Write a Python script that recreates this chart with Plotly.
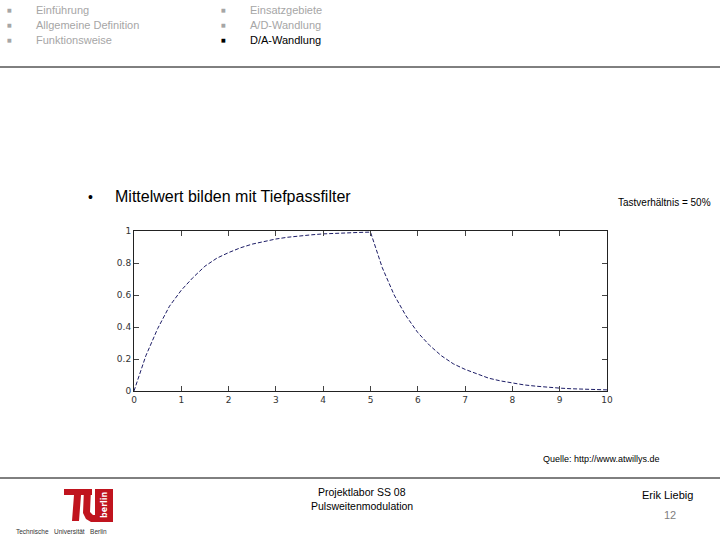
import plotly.graph_objects as go

# Data (low-pass filter response, duty cycle 50%)
t_vals = [0, 0.25, 0.5, 0.75, 1, 1.25, 1.5, 1.75, 2, 2.25, 2.5, 2.75, 3, 3.25, 3.5, 3.75, 4, 4.25, 4.5, 4.75, 5,
          5.25, 5.5, 5.75, 6, 6.25, 6.5, 6.75, 7, 7.25, 7.5, 7.75, 8, 8.25, 8.5, 8.75, 9, 9.25, 9.5, 9.75, 10]
u_vals = [0, 0.22, 0.39, 0.53, 0.63, 0.71, 0.78, 0.83, 0.865, 0.895, 0.918, 0.936, 0.95, 0.961, 0.97, 0.976, 0.982, 0.986, 0.989, 0.991, 0.993,
          0.77, 0.60, 0.47, 0.365, 0.285, 0.22, 0.17, 0.135, 0.105, 0.08, 0.063, 0.049, 0.038, 0.03, 0.023, 0.018, 0.014, 0.011, 0.008, 0.007]
x_ticks = [0, 1, 2, 3, 4, 5, 6, 7, 8, 9, 10]
y_ticks = [0, 0.2, 0.4, 0.6, 0.8, 1]
y_tick_labels = ["0", "0.2", "0.4", "0.6", "0.8", "1"]

W, H = 720, 540
L, R, T, B = 134, 607, 231, 391  # plot area in pixels


def px(x):
    return (x - L) / (R - L)


def py(y):
    return (B - y) / (B - T)


FONT = "Liberation Sans Narrow, Liberation Sans, Arial"

fig = go.Figure()
fig.add_trace(go.Scatter(x=t_vals, y=u_vals, mode="lines",
                         line=dict(color="#1c1c66", width=1, dash="4px,2px"),
                         showlegend=False, hoverinfo="skip"))

fig.update_layout(
    width=W, height=H,
    margin=dict(l=L, r=W - R, t=T, b=H - B, pad=0),
    paper_bgcolor="white", plot_bgcolor="white",
    font=dict(family=FONT, color="#000"),
    xaxis=dict(range=[0, 10], tickvals=x_ticks, ticks="inside", ticklen=5, mirror="ticks",
               showline=True, linecolor="#222", linewidth=1, showgrid=False, zeroline=False,
               tickfont=dict(size=9, color="#333", family="DejaVu Sans"), tickcolor="#444"),
    yaxis=dict(range=[0, 1], tickvals=y_ticks, ticktext=y_tick_labels, ticks="inside", ticklen=5,
               mirror="ticks", showline=True, linecolor="#222", linewidth=1, showgrid=False,
               zeroline=False, tickfont=dict(size=9, color="#333", family="DejaVu Sans"),
               tickcolor="#444"),
)

ann = []


def text(x, y, s, size=11, color="#000", xanchor="left", yanchor="middle", family=FONT):
    ann.append(dict(x=px(x), y=py(y), xref="paper", yref="paper", text=s, showarrow=False,
                    xanchor=xanchor, yanchor=yanchor, font=dict(size=size, color=color, family=family)))


GRAY = "#a6a6a6"
# header navigation
for i, (s, c) in enumerate([("Einführung", GRAY), ("Allgemeine Definition", GRAY), ("Funktionsweise", GRAY)]):
    yy = [10, 25, 40][i]
    text(5, yy, "■", 5, GRAY, family="DejaVu Sans")
    text(34, yy, s, 11, c)
for i, (s, c) in enumerate([("Einsatzgebiete", GRAY), ("A/D-Wandlung", GRAY), ("D/A-Wandlung", "#000")]):
    yy = [10, 25, 40][i]
    text(219, yy, "■", 5, c, family="DejaVu Sans")
    text(248, yy, s, 11, c)

text(86, 197, "•", 14)
text(113, 196, "Mittelwert bilden mit Tiefpassfilter", 16)
text(713, 202, "Tastverhältnis = 50%", 10, xanchor="right")
text(662, 459, "Quelle: http://www.atwillys.de", 9, xanchor="right")
text(362, 492, "Projektlabor SS 08", 10.5, xanchor="center")
text(362, 506, "Pulsweitenmodulation", 10.5, xanchor="center")
text(667, 495, "Erik Liebig", 11, xanchor="center")
text(670, 515, "12", 11, "#808080", xanchor="center")
text(61, 531, "Technische   Universität   Berlin", 6.5, "#333", xanchor="center")

shapes = []
for yy in (67, 478):
    shapes.append(dict(type="line", xref="paper", yref="paper", x0=px(0), x1=px(720), y0=py(yy), y1=py(yy),
                       line=dict(color="#000", width=1)))


def path(points):
    return "M " + " L ".join(f"{px(a):.5f},{py(b):.5f}" for a, b in points) + " Z"


RED = "#c0141e"
# TU logo
shapes.append(dict(type="path", xref="paper", yref="paper", fillcolor=RED, line=dict(width=0),
                   path=path([(64, 489), (92, 489), (92, 495), (81, 495), (79, 521), (72, 521), (74, 495), (64, 495)])))
shapes.append(dict(type="path", xref="paper", yref="paper", fillcolor=RED, line=dict(width=0),
                   path=path([(84, 489), (91, 489), (90, 512), (93, 515), (96, 515), (96, 522), (91, 522), (86, 519), (83, 513)])))
shapes.append(dict(type="path", xref="paper", yref="paper", fillcolor=RED, line=dict(width=0),
                   path=path([(95, 489), (113, 489), (113, 522), (95, 522)])))
ann.append(dict(x=px(104), y=py(505), xref="paper", yref="paper", text="<b>berlin</b>", showarrow=False,
                textangle=-90, xanchor="center", yanchor="middle",
                font=dict(size=8, color="white", family="DejaVu Sans")))

fig.update_layout(annotations=ann, shapes=shapes)
fig.write_html("out.html", config={"displayModeBar": False},
               post_script="document.body.style.margin='0';document.body.style.padding='0';")
